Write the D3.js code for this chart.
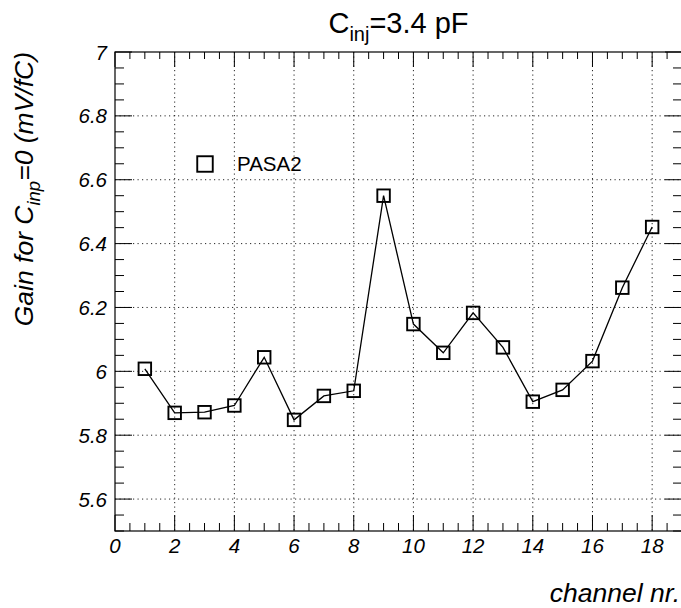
<!DOCTYPE html>
<html>
<head>
<meta charset="utf-8">
<script src="https://cdn.jsdelivr.net/npm/d3@7"></script>
<style>
  html, body { margin: 0; padding: 0; background: #fff; }
  svg { display: block; font-family: "Liberation Sans", Arial, Helvetica, sans-serif; }
</style>
</head>
<body>
<svg id="chart" width="681" height="608"></svg>
<script>
// Gain per channel for the PASA2 chip
const channels = [1, 2, 3, 4, 5, 6, 7, 8, 9, 10, 11, 12, 13, 14, 15, 16, 17, 18];
const gain = [6.008, 5.870, 5.872, 5.893, 6.044, 5.848, 5.923, 5.939, 6.550, 6.148,
              6.058, 6.183, 6.075, 5.905, 5.942, 6.032, 6.262, 6.452];
const xTicks = [0, 2, 4, 6, 8, 10, 12, 14, 16, 18];
const yTicks = [5.6, 5.8, 6.0, 6.2, 6.4, 6.6, 6.8, 7.0];
const seriesName = "PASA2";

const svg = d3.select("#chart");
const frame = { left: 115, right: 682, top: 52, bottom: 531 };

const x = d3.scaleLinear().domain([0, 19]).range([frame.left, frame.right]);
const y = d3.scaleLinear().domain([5.5, 7.0]).range([frame.bottom, frame.top]);

const g = svg.append("g");

// grid (dotted)
const grid = g.append("g").attr("stroke", "#000").attr("stroke-width", 1)
  .attr("stroke-dasharray", "1.2,3.3").attr("fill", "none");
xTicks.filter(v => v > 0).forEach(v => {
  grid.append("line").attr("x1", x(v)).attr("x2", x(v))
    .attr("y1", frame.top).attr("y2", frame.bottom).attr("stroke-opacity", 0.85);
});
yTicks.filter(v => v < 7).forEach(v => {
  grid.append("line").attr("y1", y(v)).attr("y2", y(v))
    .attr("x1", frame.left).attr("x2", frame.right).attr("stroke-opacity", 0.85);
});

// frame
g.append("rect").attr("x", frame.left).attr("y", frame.top)
  .attr("width", frame.right - frame.left).attr("height", frame.bottom - frame.top)
  .attr("fill", "none").attr("stroke", "#000").attr("stroke-width", 1.2);

// ticks inside the frame, on all four sides
const ticks = g.append("g").attr("stroke", "#000").attr("stroke-width", 1);
const xMinor = d3.range(0, 19.01, 0.5);
xMinor.forEach(v => {
  const major = Math.abs(v / 2 - Math.round(v / 2)) < 1e-6;
  const len = major ? 16 : 8;
  ticks.append("line").attr("x1", x(v)).attr("x2", x(v))
    .attr("y1", frame.bottom).attr("y2", frame.bottom - len);
  ticks.append("line").attr("x1", x(v)).attr("x2", x(v))
    .attr("y1", frame.top).attr("y2", frame.top + (major ? 15 : 7));
});
const yMinor = d3.range(5.5, 7.0001, 0.05);
yMinor.forEach(v => {
  const major = Math.abs(v / 0.2 - Math.round(v / 0.2)) < 1e-6;
  const len = major ? 17 : 9;
  ticks.append("line").attr("y1", y(v)).attr("y2", y(v))
    .attr("x1", frame.left).attr("x2", frame.left + len);
  ticks.append("line").attr("y1", y(v)).attr("y2", y(v))
    .attr("x1", frame.right).attr("x2", frame.right - len);
});

// tick labels
const fmtY = v => (Math.abs(v - Math.round(v)) < 1e-6 ? d3.format("d")(v) : d3.format(".1f")(v));
g.append("g").selectAll("text").data(xTicks).join("text")
  .attr("x", d => x(d)).attr("y", 553)
  .attr("text-anchor", "middle").attr("font-size", 20.5).attr("font-style", "italic")
  .text(d => d);
g.append("g").selectAll("text").data(yTicks).join("text")
  .attr("x", 107).attr("y", d => y(d) + 7.5)
  .attr("text-anchor", "end").attr("font-size", 20.5).attr("font-style", "italic")
  .text(d => fmtY(d));

// data line and markers
const line = d3.line().x((d, i) => x(channels[i])).y(d => y(d));
g.append("path").datum(gain).attr("d", line)
  .attr("fill", "none").attr("stroke", "#000").attr("stroke-width", 1.3);
const ms = 12.5;
g.append("g").selectAll("rect").data(gain).join("rect")
  .attr("x", (d, i) => x(channels[i]) - ms / 2).attr("y", d => y(d) - ms / 2)
  .attr("width", ms).attr("height", ms)
  .attr("fill", "none").attr("stroke", "#000").attr("stroke-width", 1.9);

// legend
const lms = 15.5;
g.append("rect").attr("x", 205 - lms / 2).attr("y", 164 - lms / 2)
  .attr("width", lms).attr("height", lms)
  .attr("fill", "none").attr("stroke", "#000").attr("stroke-width", 1.9);
g.append("text").attr("x", 237).attr("y", 171).attr("font-size", 20.5)
  .text(seriesName);

// title
const title = g.append("text").attr("x", (frame.left + frame.right) / 2).attr("y", 33)
  .attr("text-anchor", "middle").attr("font-size", 29);
title.append("tspan").text("C");
title.append("tspan").attr("font-size", 20).attr("dy", 8).text("inj");
title.append("tspan").attr("dy", -8).text("=3.4 pF");

// axis titles
g.append("text").attr("x", 680).attr("y", 602).attr("text-anchor", "end")
  .attr("font-size", 26.5).attr("font-style", "italic").text("channel nr.");

const yt = g.append("text").attr("transform", "translate(33,52) rotate(-90)")
  .attr("text-anchor", "end").attr("font-size", 26.5).attr("font-style", "italic");
yt.append("tspan").text("Gain for C");
yt.append("tspan").attr("font-size", 18.5).attr("dy", 7).text("inp");
yt.append("tspan").attr("dy", -7).text("=0 (mV/fC)");
</script>
</body>
</html>
